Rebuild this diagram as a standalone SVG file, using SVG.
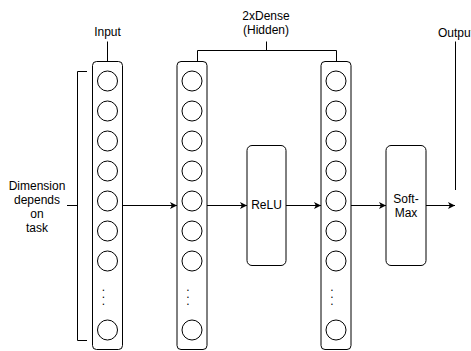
<svg xmlns="http://www.w3.org/2000/svg" width="471" height="351" viewBox="0 0 471 351">
<style>
.col{fill:#fff;stroke:#000;stroke-width:1}
.n{fill:#fff;stroke:#000;stroke-width:1}
.box{fill:#fff;stroke:#000;stroke-width:1}
.ln{fill:none;stroke:#000;stroke-width:1}
text{font-family:"Liberation Sans",Arial,Helvetica,sans-serif;font-size:12px;fill:#000;text-anchor:middle}
.dot{font-size:12px}
</style>
<defs>
<marker id="arr" markerWidth="8" markerHeight="8" refX="7" refY="4" orient="auto" markerUnits="userSpaceOnUse">
<path d="M0,0.5 L7,4 L0,7.5 L1.8,4 Z" fill="#000"/>
</marker>
<g id="nodecol">
<circle class="n" cx="0" cy="81" r="10"/>
<circle class="n" cx="0" cy="111" r="10"/>
<circle class="n" cx="0" cy="141" r="10"/>
<circle class="n" cx="0" cy="171" r="10"/>
<circle class="n" cx="0" cy="201" r="10"/>
<circle class="n" cx="0" cy="231" r="10"/>
<circle class="n" cx="0" cy="261" r="10"/>
<text x="-4" y="291">.</text>
<text x="-4" y="298">.</text>
<text x="-4" y="305">.</text>
<circle class="n" cx="0" cy="330" r="10"/>
</g>
</defs>

<g id="input">
<rect class="col" x="92.5" y="61.5" width="30" height="288" rx="4"/>
<use href="#nodecol" x="107.5"/>
<text x="107.5" y="36">Input</text>
</g>

<g id="dense1">
<rect class="col" x="177" y="61.5" width="30" height="288" rx="4"/>
<use href="#nodecol" x="192"/>
</g>

<g id="dense2">
<rect class="col" x="321" y="61.5" width="30" height="288" rx="4"/>
<use href="#nodecol" x="336"/>
</g>

<g id="relu">
<rect class="box" x="247" y="145.5" width="39" height="120" rx="5"/>
<text x="266.5" y="209">ReLU</text>
</g>

<g id="softmax">
<rect class="box" x="386" y="145.5" width="40" height="120" rx="5"/>
<text x="406" y="203">Soft-</text>
<text x="406" y="217">Max</text>
</g>

<g id="dense-label">
<text x="266" y="20">2xDense</text>
<text x="266" y="34">(Hidden)</text>
</g>

<g id="output-label">
<text x="438" y="37" style="text-anchor:start">Output</text>
</g>

<g id="dimension-label">
<text x="37" y="190">Dimension</text>
<text x="37" y="204">depends</text>
<text x="37" y="218">on</text>
<text x="37" y="232">task</text>
</g>

<g id="connectors">
<path class="ln" d="M107.5,41.5 V61.5"/>
<path class="ln" d="M197.5,61.5 V50.5 H336.5 V61.5 M266.5,50.5 V41.5"/>
<path class="ln" d="M455.5,41.5 V190"/>
<path class="ln" d="M87,71.5 H77.5 V340.5 H87 M67,205.5 H77.5"/>
<path class="ln" d="M122.5,205.5 H177" marker-end="url(#arr)"/>
<path class="ln" d="M207,205.5 H247" marker-end="url(#arr)"/>
<path class="ln" d="M286,205.5 H321" marker-end="url(#arr)"/>
<path class="ln" d="M351,205.5 H386" marker-end="url(#arr)"/>
<path class="ln" d="M426,205.5 H455" marker-end="url(#arr)"/>
</g>
</svg>
